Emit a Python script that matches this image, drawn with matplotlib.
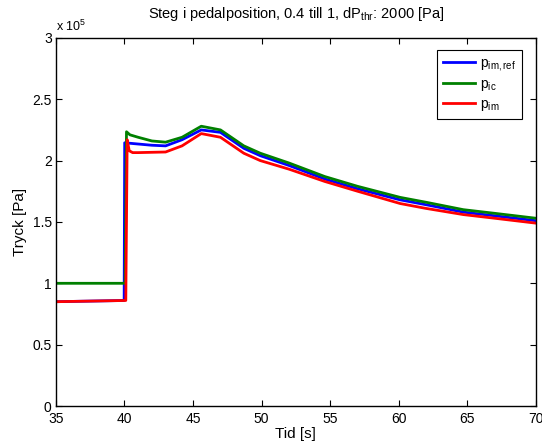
import matplotlib
matplotlib.use("Agg")
import matplotlib.pyplot as plt

plt.rcParams["font.family"] = ["Liberation Sans", "DejaVu Sans"]
plt.rcParams["mathtext.fontset"] = "custom"
plt.rcParams["mathtext.rm"] = "Liberation Sans"
plt.rcParams["mathtext.it"] = "Liberation Sans:italic"

# ── Data (pressure in 1e5 Pa) ──────────────────────────────────
t_ref = [35, 39.98, 40.02, 41, 42, 43, 44.2, 45.6, 47, 48.7, 49.9, 52, 54.6, 57, 60.1, 62, 64.7, 67, 70]
p_ref = [0.85, 0.86, 2.145, 2.135, 2.125, 2.12, 2.17, 2.25, 2.23, 2.10, 2.04, 1.96, 1.85, 1.77, 1.68, 1.64, 1.58, 1.55, 1.51]

t_ic = [35, 40.05, 40.15, 40.4, 41, 42, 43, 44.2, 45.6, 47, 48.7, 49.9, 52, 54.6, 57, 60.1, 62, 64.7, 67, 70]
p_ic = [1.0, 1.0, 2.235, 2.21, 2.19, 2.16, 2.15, 2.19, 2.28, 2.25, 2.12, 2.06, 1.98, 1.87, 1.79, 1.70, 1.66, 1.60, 1.57, 1.53]

t_im = [35, 40.1, 40.2, 40.35, 40.6, 41, 43, 44.2, 45.6, 47, 48.7, 49.9, 52, 54.6, 57, 60.1, 62, 64.7, 67, 70]
p_im = [0.85, 0.86, 2.17, 2.08, 2.065, 2.065, 2.07, 2.12, 2.22, 2.19, 2.06, 2.00, 1.93, 1.83, 1.75, 1.65, 1.61, 1.56, 1.53, 1.49]

x_ticks = [35, 40, 45, 50, 55, 60, 65, 70]
y_ticks = [0, 0.5, 1, 1.5, 2, 2.5, 3]
y_labels = ["0", "0.5", "1", "1.5", "2", "2.5", "3"]

fig = plt.figure(figsize=(5.42, 4.43), dpi=100)
ax = fig.add_axes([0.103, 0.0835, 0.886, 0.831])

ax.plot(t_ref, p_ref, color="#0000ff", lw=2, label=r"p$_{\mathrm{im,ref}}$")
ax.plot(t_ic, p_ic, color="#008000", lw=2, label=r"p$_{\mathrm{ic}}$")
ax.plot(t_im, p_im, color="#ff0000", lw=2, label=r"p$_{\mathrm{im}}$")

ax.set_xlim(35, 70)
ax.set_ylim(0, 3)
ax.set_xticks(x_ticks)
ax.set_yticks(y_ticks)
ax.set_yticklabels(y_labels)
ax.tick_params(direction="in", top=True, right=True, labelsize=10, length=4)
ax.tick_params(axis="x", pad=4)
ax.tick_params(axis="y", pad=3)
for s in ax.spines.values():
    s.set_linewidth(1.0)

ax.text(0.0, 1.01, r"x 10$^5$", transform=ax.transAxes, fontsize=9, ha="left", va="bottom")
ax.set_xlabel("Tid [s]", fontsize=11, labelpad=1)
ax.set_ylabel("Tryck [Pa]", fontsize=11, labelpad=4)
ax.set_title(r"Steg i pedalposition, 0.4 till 1, dP$_{\mathrm{thr}}$: 2000 [Pa]", fontsize=10.5, pad=14)

leg = ax.legend(loc="upper right", bbox_to_anchor=(0.985, 0.985), fontsize=10,
                fancybox=False, framealpha=1, edgecolor="black", handlelength=2.3,
                borderpad=0.4, labelspacing=0.3, handletextpad=0.4)
leg.get_frame().set_linewidth(0.8)

fig.savefig("out.png", dpi=100)
